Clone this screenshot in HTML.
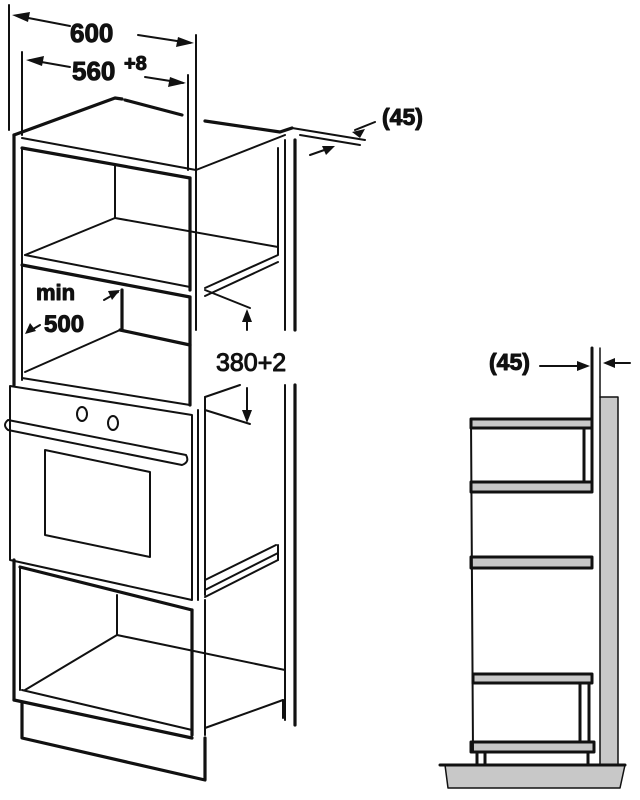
<!DOCTYPE html>
<html><head><style>body{margin:0;background:#fff}svg{display:block}text{font-family:"Liberation Sans",sans-serif;font-weight:bold;fill:#111}</style></head><body>
<svg width="640" height="800" viewBox="0 0 640 800" fill="none" stroke="#111" stroke-linecap="round" stroke-linejoin="round">
<g stroke-width="2">
<line x1="9" y1="5" x2="9" y2="130"/><line x1="196" y1="35" x2="196" y2="330"/>
<line x1="22" y1="52" x2="22" y2="135"/><line x1="188" y1="75" x2="188" y2="170"/>
<line x1="18" y1="16" x2="70" y2="26"/><line x1="138" y1="35" x2="190" y2="43"/>
<line x1="30" y1="60" x2="70" y2="67"/><line x1="145" y1="77" x2="183" y2="83"/>
</g>
<g fill="#111" stroke="none">
<polygon points="12,15 30,12 28,22"/><polygon points="194,43 176,47 178,37"/>
<polygon points="26,60 44,56 42,66"/><polygon points="186,83 168,87 170,77"/>
</g>
<text x="70" y="42" font-size="26">600</text>
<text x="72" y="80" font-size="26">560</text><text x="124" y="70" font-size="20">+8</text>
<g stroke-width="3.2">
<polyline points="14,135 115,98 122,99"/><line x1="125" y1="100" x2="182" y2="115"/><polyline points="205,121 280,132 292,128"/>
<line x1="14" y1="135" x2="14" y2="385"/>
<line x1="22" y1="148" x2="190" y2="178"/><line x1="190" y1="178" x2="190" y2="290"/>
<line x1="22" y1="265" x2="190" y2="297"/><line x1="190" y1="297" x2="190" y2="405"/>
<line x1="122" y1="290" x2="122" y2="330"/><line x1="120" y1="330" x2="190" y2="345"/>
</g>
<g stroke-width="2">
<line x1="22" y1="138" x2="196" y2="170"/><line x1="196" y1="170" x2="285" y2="135"/>
<line x1="22" y1="148" x2="22" y2="380"/>
<line x1="115" y1="165" x2="115" y2="218"/><line x1="115" y1="218" x2="25" y2="255"/><line x1="115" y1="218" x2="278" y2="247"/>
<line x1="25" y1="255" x2="190" y2="287"/><polyline points="278,247 278,255 205,288"/><line x1="205" y1="296" x2="278" y2="262"/>
<line x1="25" y1="372" x2="120" y2="330"/><line x1="22" y1="378" x2="190" y2="405"/>
<line x1="278" y1="148" x2="278" y2="248"/>
<line x1="285" y1="140" x2="285" y2="330"/><line x1="285" y1="385" x2="285" y2="720"/>
</g>
<line x1="295" y1="140" x2="295" y2="330" stroke-width="3.2"/><line x1="295" y1="385" x2="295" y2="725" stroke-width="3.2"/>
<text x="36" y="300" font-size="22">min</text><text x="44" y="332" font-size="24">500</text>
<line x1="104" y1="300" x2="118" y2="292" stroke-width="2"/><line x1="40" y1="325" x2="28" y2="332" stroke-width="2"/>
<g fill="#111" stroke="none"><polygon points="120,290 108,291 112,300"/><polygon points="25,334 30,323 36,331"/></g>
<g stroke-width="2"><line x1="205" y1="290" x2="250" y2="308"/><line x1="247" y1="312" x2="247" y2="330"/><line x1="247" y1="388" x2="247" y2="420"/><line x1="205" y1="410" x2="250" y2="424"/><line x1="205" y1="397" x2="240" y2="385"/></g>
<g fill="#111" stroke="none"><polygon points="247,309 242,322 252,322"/><polygon points="247,423 242,410 252,410"/></g>
<text x="216" y="371" font-size="25" style="font-weight:normal">380+2</text>
<g stroke-width="2"><line x1="292" y1="128" x2="365" y2="140"/><line x1="300" y1="135" x2="360" y2="145"/><line x1="310" y1="155" x2="330" y2="148"/><line x1="355" y1="130" x2="375" y2="122"/></g>
<g fill="#111" stroke="none"><polygon points="335,146 322,146 326,155"/><polygon points="352,132 365,129 360,138"/></g>
<text x="382" y="125" font-size="23">(45)</text>
<g stroke-width="2">
<polygon points="10,386 192,415 192,600 10,560"/>
<path d="M8,420 Q2,425 8,430 L182,465 Q190,462 186,455 Z"/>
<polygon points="45,450 150,472 150,557 45,535"/>
<ellipse cx="82" cy="414" rx="5" ry="7"/><ellipse cx="113" cy="423" rx="5" ry="7"/>
<line x1="198" y1="410" x2="198" y2="600"/>
<line x1="205" y1="580" x2="276" y2="545"/><line x1="205" y1="590" x2="278" y2="553"/><line x1="205" y1="597" x2="278" y2="560"/><line x1="278" y1="545" x2="278" y2="560"/>
<line x1="205" y1="397" x2="205" y2="595"/><line x1="205" y1="600" x2="205" y2="735"/>
</g>
<g stroke-width="3.2">
<line x1="20" y1="567" x2="192" y2="610"/><line x1="192" y1="610" x2="192" y2="735"/>
<line x1="14" y1="560" x2="14" y2="700"/><line x1="14" y1="700" x2="192" y2="738"/>
<polyline points="22,702 22,738 205,780 205,738"/>
</g>
<g stroke-width="2">
<line x1="20" y1="567" x2="20" y2="690"/><line x1="117" y1="595" x2="117" y2="635"/>
<line x1="117" y1="635" x2="25" y2="690"/><line x1="117" y1="635" x2="285" y2="670"/>
<line x1="22" y1="690" x2="192" y2="730"/><line x1="205" y1="728" x2="283" y2="700"/><line x1="283" y1="700" x2="283" y2="718"/>
</g>
<rect x="600" y="397" width="18" height="370" fill="#c8c8c8" stroke-width="1.5"/>
<polygon points="445,765 625,765 620,788 448,788" fill="#c8c8c8" stroke-width="1.5"/>
<line x1="440" y1="765" x2="625" y2="765" stroke-width="3"/>
<line x1="592" y1="348" x2="592" y2="420" stroke-width="3"/><line x1="600" y1="348" x2="600" y2="397" stroke-width="1.5"/>
<g stroke-width="2"><line x1="540" y1="366" x2="578" y2="366"/><line x1="610" y1="363" x2="630" y2="363"/></g>
<g fill="#111" stroke="none"><polygon points="590,366 577,361 577,371"/><polygon points="603,363 615,358 615,368"/></g>
<text x="489" y="370" font-size="23">(45)</text>
<g stroke-width="3">
<rect x="471" y="419" width="121" height="9" fill="#c8c8c8"/>
<rect x="471" y="482" width="121" height="10" fill="#c8c8c8"/>
<rect x="584" y="428" width="8" height="54" fill="#fff"/>
<rect x="471" y="557" width="121" height="11" fill="#c8c8c8"/>
<rect x="473" y="674" width="119" height="9" fill="#c8c8c8"/>
<rect x="580" y="683" width="9" height="59" fill="#fff"/>
<rect x="471" y="742" width="123" height="10" fill="#c8c8c8"/>
<line x1="477" y1="752" x2="477" y2="765"/><line x1="485" y1="752" x2="485" y2="765"/><line x1="588" y1="752" x2="588" y2="765"/>
</g>
<line x1="471" y1="419" x2="473" y2="752" stroke-width="2"/>
</svg>
</body></html>
